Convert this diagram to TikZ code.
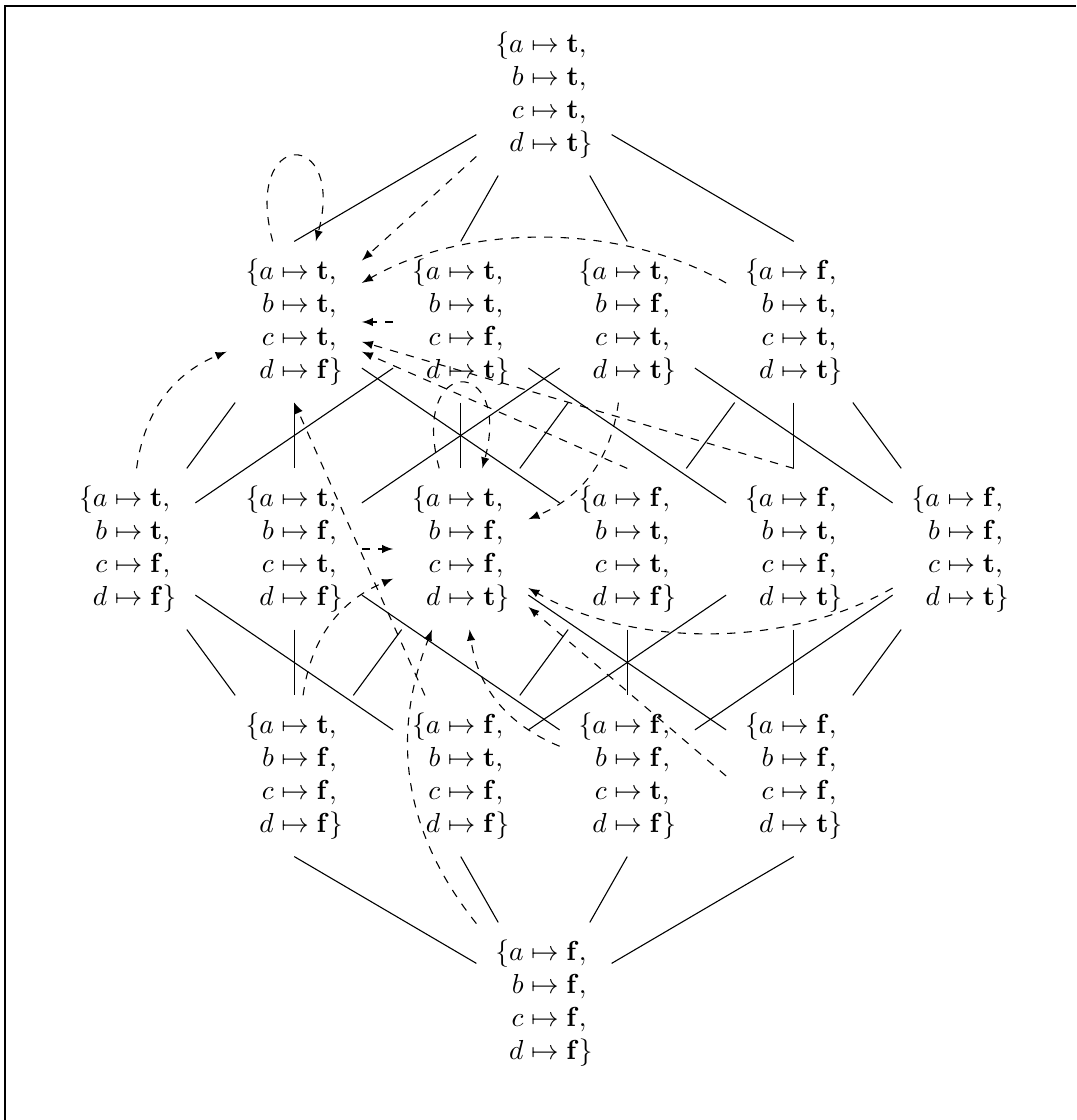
\documentclass[tikz,border=0pt]{standalone}
\usetikzlibrary{arrows}
\newcommand{\asgn}[4]{$\begin{array}{@{}r@{}l@{}}\{a&{}\mapsto\mathbf{#1},\\ b&{}\mapsto\mathbf{#2},\\ c&{}\mapsto\mathbf{#3},\\ d&{}\mapsto\mathbf{#4}\}\end{array}$}
\begin{document}
\begin{tikzpicture}[x=0.36364pt,y=0.36364pt,
  val/.style={inner sep=0pt, minimum width=48.8pt, minimum height=58.2pt},
  dep/.style={dashed,-latex},
  every loop/.style={}]
\useasboundingbox (0,0) rectangle (1076,1120);
\draw (5,0) -- (5,1114) -- (1076,1114);
% nodes
\node[val] (tttt) at (544,1025) {\asgn tttt};
\node[val] (tttf) at (294.25,798) {\asgn tttf};
\node[val] (ttft) at (460.75,798) {\asgn ttft};
\node[val] (tftt) at (627.25,798) {\asgn tftt};
\node[val] (fttt) at (793.75,798) {\asgn fttt};
\node[val] (ttff) at (127.75,571) {\asgn ttff};
\node[val] (tftf) at (294.25,571) {\asgn tftf};
\node[val] (tfft) at (460.75,571) {\asgn tfft};
\node[val] (fttf) at (627.25,571) {\asgn fttf};
\node[val] (ftft) at (793.75,571) {\asgn ftft};
\node[val] (fftt) at (960.25,571) {\asgn fftt};
\node[val] (tfff) at (294.25,344) {\asgn tfff};
\node[val] (ftff) at (460.75,344) {\asgn ftff};
\node[val] (fftf) at (627.25,344) {\asgn fftf};
\node[val] (ffft) at (793.75,344) {\asgn ffft};
\node[val] (ffff) at (544,117) {\asgn ffff};
% Hasse edges
\foreach \n in {tttf,ttft,tftt,fttt} \draw (tttt) -- (\n.north);
\foreach \a/\b in {tttf/ttff,tttf/tftf,tttf/fttf,ttft/ttff,ttft/tfft,ttft/ftft,
  tftt/tftf,tftt/tfft,tftt/fftt,fttt/fttf,fttt/ftft,fttt/fftt,
  ttff/tfff,ttff/ftff,tftf/tfff,tftf/fftf,tfft/tfff,tfft/ffft,
  fttf/ftff,fttf/fftf,ftft/ftff,ftft/ffft,fftt/fftf,fftt/ffft}
  \draw (\a) -- (\b);
\foreach \n in {tfff,ftff,fftf,ffft} \draw (\n.south) -- (ffff);
% dependency arrows
\draw[dep] (tttf) to[loop above,looseness=7] (tttf);
\draw[dep] (tttt) -- (tttf);
\draw[dep] (fttt) to[bend right=30,looseness=0.85] (tttf);
\draw[dep] (ttft) -- (tttf);
\draw[dep] (ftft.north) -- (tttf);
\draw[dep] (fttf.north) -- (tttf);
\draw[dep] (tfft) to[loop above,looseness=7] (tfft);
\draw[dep] (tftt) to[bend left=30] (tfft);
\draw[dep] (ttff) to[bend left=30] (tttf);
\draw[dep] (tftf) -- (tfft);
\draw[dep] (ftff) -- (tttf.south);
\draw[dep] (tfff) to[bend left=30] (tfft);
\draw[dep] (ffff) to[bend left=30] (tfft);
\draw[dep] (fftf) to[bend left=30] (tfft);
\draw[dep] (fftt) to[bend left=30,looseness=0.85] (tfft);
\draw[dep] (ffft.west) -- (tfft);
\end{tikzpicture}
\end{document}
